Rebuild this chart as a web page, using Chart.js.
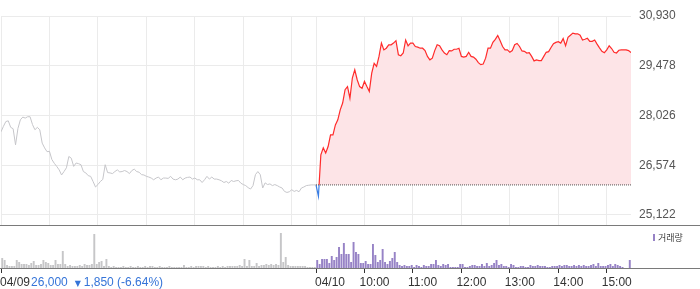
<!DOCTYPE html>
<html lang="ko">
<head>
<meta charset="utf-8">
<title>주가 차트</title>
<script src="https://cdn.jsdelivr.net/npm/chart.js@4.4.1/dist/chart.umd.min.js"></script>
<style>
  html, body { margin: 0; padding: 0; background: #fff; }
  #wrap { position: relative; width: 700px; height: 289px; overflow: hidden; }
  #priceChart { position: absolute; left: 0; top: 0; }
  #volumeChart { position: absolute; left: 0; top: 226px; }
</style>
</head>
<body>
<div id="wrap">
  <canvas id="priceChart" width="700" height="226"></canvas>
  <canvas id="volumeChart" width="700" height="63"></canvas>
</div>
<script>
// 전일 종가 / 등락
const PREV_CLOSE = 26000;
const PREV_CHANGE = -1850;
const PREV_CHANGE_PCT = -6.64;

const STEP_MIN = 3;     // 3분 간격 샘플
const DAY_MIN = 390;    // 09:00 ~ 15:30

const priceTicks = [25122, 26574, 28026, 29478, 30930];
const gridMinutes = [0, 60, 120, 180, 240, 300, 360, 390, 450, 510, 570, 630, 690, 750];
const labelMinutes = [0, 390, 450, 510, 570, 630, 690, 750];
const labelTexts = ["04/09", "04/10", "10:00", "11:00", "12:00", "13:00", "14:00", "15:00"];

// 04/09 (전일)
const prevPrices = [
  27550, 27710, 27850, 27870, 27680, 27640, 27170, 27650, 27900, 27980,
  27950, 27990, 27990, 27760, 27610, 27680, 27610, 27220, 27080, 26970,
  26980, 26740, 26630, 26540, 26440, 26290, 26390, 26500, 26830, 26780,
  26540, 26640, 26620, 26590, 26390, 26350, 26270, 26250, 26100, 25940,
  26010, 26100, 26160, 26590, 26360, 26350, 26330, 26390, 26440, 26380,
  26390, 26420, 26390, 26330, 26420, 26460, 26390, 26370, 26300, 26290,
  26250, 26230, 26200, 26150, 26200, 26230, 26150, 26200, 26200, 26190,
  26250, 26170, 26150, 26170, 26230, 26150, 26200, 26220, 26230, 26170,
  26200, 26150, 26150, 26070, 26150, 26250, 26170, 26230, 26170, 26170,
  26150, 26120, 26070, 26100, 26050, 26130, 26100, 26120, 26130, 26050,
  26010, 25980, 25920, 25880, 25980, 26300, 26390, 26300, 25910, 26060,
  26010, 26030, 25980, 26010, 25980, 25940, 25910, 25810, 25780, 25800,
  25860, 25810, 25840, 25800, 25910, 25940, 25980, 25990, 26000, 26000,
  26000
];

// 04/10 (당일)
const todayPrices = [
  26000, 25670, 26880, 27080, 26930, 27120, 27460, 27460, 27750, 27900,
  28190, 28390, 28780, 28870, 28530, 29120, 29360, 29070, 28870, 28820,
  29020, 28870, 28730, 29260, 29550, 29460, 29750, 30140, 29940, 29990,
  30090, 30090, 30140, 30210, 29800, 29770, 29850, 30230, 30060, 30140,
  30140, 30040, 30020, 29990, 29990, 29920, 29750, 29650, 29700, 29920,
  30090, 30060, 29940, 29850, 29800, 29920, 29910, 29960, 29960, 29990,
  29750, 29730, 29750, 29870, 29750, 29730, 29670, 29570, 29510, 29530,
  29700, 29990, 29990, 30160, 30250, 30360, 30210, 30040, 29940, 29940,
  29870, 29920, 30090, 30130, 30040, 29910, 29900, 29850, 29860, 29750,
  29620, 29650, 29630, 29630, 29750, 29870, 29890, 30010, 30120, 30160,
  30180, 30140, 30270, 30060, 30310, 30370, 30430, 30410, 30410, 30370,
  30230, 30250, 30280, 30190, 30190, 30230, 30110, 30000, 29900, 29860,
  29940, 30060, 29980, 29870, 29850, 29930, 29940, 29940, 29940, 29920,
  29860
];

// 거래량 (천주, 그림에서 추정)
const prevVolume = [
  10, 8, 3, 2, 2, 2, 8, 6, 4, 4,
  4, 3, 5, 7, 3, 3, 4, 8, 6, 5,
  3, 3, 8, 4, 4, 17, 4, 2, 3, 2,
  2, 2, 3, 2, 4, 3, 3, 4, 34, 4,
  6, 7, 2, 9, 2, 1, 2, 1, 1, 1,
  2, 1, 1, 2, 1, 1, 2, 1, 1, 2,
  1, 2, 2, 1, 1, 2, 1, 1, 1, 2,
  1, 1, 1, 1, 1, 3, 1, 1, 2, 1,
  2, 2, 2, 2, 1, 2, 1, 1, 1, 2,
  1, 2, 1, 2, 2, 2, 2, 2, 3, 2,
  9, 2, 8, 2, 2, 5, 2, 3, 3, 4,
  3, 4, 3, 4, 3, 35, 6, 11, 3, 2,
  2, 2, 2, 2, 2, 2, 1, 1, 1, 1
];
const todayVolume = [
  8, 4, 9, 9, 9, 5, 12, 8, 11, 21,
  14, 25, 14, 14, 6, 26, 16, 14, 5, 5,
  7, 4, 4, 24, 13, 6, 8, 19, 6, 4,
  7, 10, 16, 6, 3, 2, 3, 2, 2, 3,
  1, 3, 2, 1, 3, 2, 2, 4, 4, 8,
  3, 2, 4, 3, 4, 1, 1, 1, 1, 4,
  4, 1, 1, 2, 3, 3, 2, 2, 4, 2,
  5, 2, 3, 5, 8, 3, 4, 2, 2, 1,
  4, 3, 1, 1, 2, 2, 1, 1, 3, 2,
  2, 3, 2, 2, 2, 1, 1, 2, 2, 2,
  3, 2, 3, 3, 2, 2, 3, 2, 3, 2,
  3, 2, 2, 3, 4, 2, 5, 2, 2, 2,
  3, 4, 2, 4, 3, 2, 1, 0, 0, 8
];

const UP = "#ff2b2b";
const DOWN = "#3a7ee4";
const GRID = "#ebebeb";
const FONT = '"Liberation Sans", Arial, sans-serif';

Chart.defaults.font.family = FONT;

const toPoints = (vals, start, offset) =>
  vals.map((v, i) => ({ x: start + i * STEP_MIN + offset, y: v }));

// 가격 차트 아래쪽 테두리 (오른쪽 눈금 영역까지)
const priceBorder = {
  id: "priceBorder",
  afterDraw(chart) {
    const { ctx, chartArea } = chart;
    ctx.save();
    ctx.strokeStyle = "#7a7a7a";
    ctx.lineWidth = 1;
    ctx.beginPath();
    ctx.moveTo(0, chartArea.bottom + 0.5);
    ctx.lineTo(chart.width, chartArea.bottom + 0.5);
    ctx.stroke();
    ctx.restore();
  }
};

new Chart(document.getElementById("priceChart"), {
  type: "line",
  data: {
    datasets: [
      {
        label: "04/09",
        data: toPoints(prevPrices, 0, 0),
        borderColor: "#c6c6ca",
        borderWidth: 1,
        pointRadius: 0,
        tension: 0
      },
      {
        label: "04/10",
        data: toPoints(todayPrices, DAY_MIN, 0),
        borderColor: c => {
          const { chart } = c;
          const area = chart.chartArea;
          if (!area) return UP;
          const yb = chart.scales.y.getPixelForValue(PREV_CLOSE);
          const t = Math.min(1, Math.max(0, (yb - area.top) / (area.bottom - area.top)));
          const g = chart.ctx.createLinearGradient(0, area.top, 0, area.bottom);
          g.addColorStop(0, UP);
          g.addColorStop(t, UP);
          g.addColorStop(t, DOWN);
          g.addColorStop(1, DOWN);
          return g;
        },
        borderWidth: 1.2,
        pointRadius: 0,
        tension: 0,
        fill: { target: { value: PREV_CLOSE }, above: "#fde4e7", below: "rgba(0,0,0,0)" }
      },
      {
        label: "전일종가",
        data: [{ x: DAY_MIN, y: PREV_CLOSE }, { x: DAY_MIN * 2, y: PREV_CLOSE }],
        borderColor: "#555",
        borderDash: [1, 1],
        borderWidth: 1,
        pointRadius: 0,
        order: -1
      }
    ]
  },
  options: {
    responsive: false,
    animation: false,
    layout: { padding: { left: 1, top: 16, bottom: 1 } },
    plugins: { legend: { display: false }, tooltip: { enabled: false } },
    scales: {
      x: {
        type: "linear",
        min: 0,
        max: DAY_MIN * 2,
        afterBuildTicks: s => { s.ticks = gridMinutes.map(v => ({ value: v })); },
        afterFit: s => { s.height = 0; },
        ticks: { display: false },
        grid: { color: GRID, drawTicks: false },
        border: { display: false }
      },
      y: {
        position: "right",
        min: 24830,
        max: 30930,
        afterBuildTicks: s => { s.ticks = priceTicks.map(v => ({ value: v })); },
        afterFit: s => {
          s.width = 69;
          s.paddingTop = 0;
          s.paddingBottom = 0;
        },
        ticks: {
          callback: v => Number(v).toLocaleString("en-US"),
          font: { size: 12 },
          color: "#555",
          padding: 8
        },
        grid: { color: GRID, drawTicks: false },
        border: { display: false }
      }
    }
  },
  plugins: [priceBorder]
});

// 거래량 축선, 시간 라벨, 범례
const volumeAxis = {
  id: "volumeAxis",
  afterDraw(chart) {
    const { ctx, chartArea, scales } = chart;
    ctx.save();
    ctx.strokeStyle = "#7a7a7a";
    ctx.lineWidth = 1;
    ctx.beginPath();
    ctx.moveTo(0, chartArea.bottom + 0.5);
    ctx.lineTo(chart.width, chartArea.bottom + 0.5);
    ctx.stroke();

    ctx.font = "12px " + FONT;
    ctx.textBaseline = "middle";
    ctx.textAlign = "left";
    const ly = chartArea.bottom + 15;
    labelMinutes.forEach((m, i) => {
      const px = scales.x.getPixelForValue(m);
      const text = labelTexts[i];
      ctx.fillStyle = "#333";
      ctx.fillText(text, text.includes("/") ? Math.max(0, px - 1) : px - 5, ly);
    });

    // 전일 종가 정보
    let x = ctx.measureText(labelTexts[0]).width + 1;
    ctx.fillStyle = "#3574d8";
    const closeText = PREV_CLOSE.toLocaleString("en-US");
    ctx.fillText(closeText, x, ly);
    x += ctx.measureText(closeText).width + 7;
    ctx.font = "8px DejaVu Sans";
    ctx.fillText(PREV_CHANGE < 0 ? "▼" : "▲", x, ly + 1);
    x += 9;
    ctx.font = "12px " + FONT;
    ctx.fillText(Math.abs(PREV_CHANGE).toLocaleString("en-US") + " (" + PREV_CHANGE_PCT.toFixed(2) + "%)", x, ly);

    // 범례
    ctx.fillStyle = "#9783c6";
    ctx.fillRect(653, 8, 2, 7);
    ctx.fillStyle = "#444";
    ctx.font = '9px "Noto Sans CJK KR"';
    ctx.fillText("거래량", 658, 11.5);
    ctx.restore();
  }
};

new Chart(document.getElementById("volumeChart"), {
  type: "bar",
  data: {
    datasets: [
      {
        label: "04/09 거래량",
        data: toPoints(prevVolume, 0, STEP_MIN / 2),
        backgroundColor: "#c6c6c8"
      },
      {
        label: "거래량",
        data: toPoints(todayVolume, DAY_MIN, STEP_MIN / 2),
        backgroundColor: "#9783c6"
      }
    ]
  },
  options: {
    responsive: false,
    animation: false,
    layout: { padding: { left: 1, right: 69, top: 0, bottom: 16 } },
    plugins: { legend: { display: false }, tooltip: { enabled: false } },
    datasets: { bar: { grouped: false, barPercentage: 1, categoryPercentage: 0.8 } },
    scales: {
      x: {
        type: "linear",
        offset: false,
        min: 0,
        max: DAY_MIN * 2,
        afterBuildTicks: s => { s.ticks = labelMinutes.map(v => ({ value: v })); },
        ticks: { display: false },
        grid: { offset: false, drawOnChartArea: false, drawTicks: true, tickLength: 5, tickColor: "#333" },
        border: { display: false }
      },
      y: { display: false, min: 0, max: 42 }
    }
  },
  plugins: [volumeAxis]
});
</script>
</body>
</html>
